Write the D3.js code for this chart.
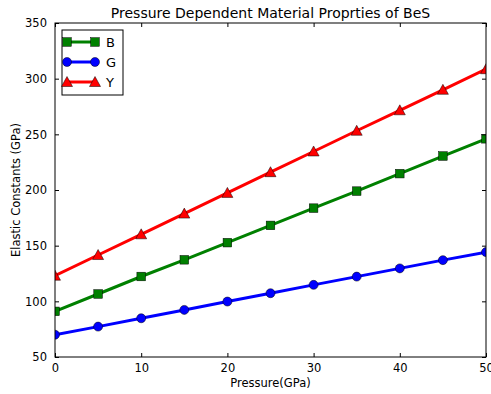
<!DOCTYPE html>
<html>
<head>
<meta charset="utf-8">
<script src="https://cdn.jsdelivr.net/npm/d3@7"></script>
<style>
  body { margin: 0; background: #fff; }
  svg text { font-family: "DejaVu Sans", sans-serif; fill: #000; }
</style>
</head>
<body>
<svg id="chart" width="491" height="394"></svg>
<script>
// data
let pressure = [0, 5, 10, 15, 20, 25, 30, 35, 40, 45, 50];
let bulkB  = [91, 106.6, 122.3, 137.3, 152.7, 168.2, 183.7, 199, 214.7, 230.5, 246];
let shearG = [70, 77.3, 84.8, 92.3, 99.8, 107.3, 114.8, 122.2, 129.6, 137, 144.2];
let youngY = [123, 141.6, 160.2, 178.8, 197.4, 216, 234.6, 253.2, 271.6, 290, 308.5];
let xTicks = [0, 10, 20, 30, 40, 50];
let yTicks = [50, 100, 150, 200, 250, 300, 350];

let series = [
    {name: "B", values: bulkB,  color: "#008000", marker: "square"},
    {name: "G", values: shearG, color: "#0000ff", marker: "circle"},
    {name: "Y", values: youngY, color: "#ff0000", marker: "triangle"}
];

var svg = d3.select("#chart");
var pLeft = 55, pRight = 486, pTop = 23, pBottom = 357;

var x = d3.scaleLinear().domain([0, 50]).range([pLeft, pRight]);
var y = d3.scaleLinear().domain([50, 350]).range([pBottom, pTop]);

// markers are cut at the axes like in the original
svg.append("clipPath").attr("id", "clip")
    .append("rect").attr("x", pLeft).attr("y", pTop)
    .attr("width", pRight - pLeft).attr("height", pBottom - pTop);

function drawMarker(g, type, color, cx, cy) {
    if (type === "square") {
        g.append("rect").attr("x", cx - 4.3).attr("y", cy - 4.3)
            .attr("width", 8.6).attr("height", 8.6);
    } else if (type === "circle") {
        g.append("circle").attr("cx", cx).attr("cy", cy).attr("r", 4.5);
    } else {
        g.append("path").attr("d", "M" + cx + "," + (cy - 5.5) + "L" + (cx + 5.5) + "," + (cy + 4.5) + "L" + (cx - 5.5) + "," + (cy + 4.5) + "Z");
    }
    g.selectAll("*").attr("fill", color).attr("stroke", "#000").attr("stroke-width", 0.5);
}

var line = d3.line()
    .x(function(d, i) { return x(pressure[i]); })
    .y(function(d) { return y(d); });

var dataG = svg.append("g").attr("clip-path", "url(#clip)");
series.forEach(function(s) {
    dataG.append("path")
        .attr("d", line(s.values))
        .attr("fill", "none")
        .attr("stroke", s.color)
        .attr("stroke-width", 3);
    s.values.forEach(function(v, i) {
        drawMarker(dataG.append("g"), s.marker, s.color, x(pressure[i]), y(v));
    });
});

// frame
svg.append("rect").attr("x", pLeft).attr("y", pTop)
    .attr("width", pRight - pLeft).attr("height", pBottom - pTop)
    .attr("fill", "none").attr("stroke", "#000").attr("stroke-width", 1);

// axes with inward ticks on all sides
var xAxis = d3.axisBottom(x).tickValues(xTicks).tickSize(-4).tickPadding(7).tickFormat(d3.format("d"));
var yAxis = d3.axisLeft(y).tickValues(yTicks).tickSize(-4).tickPadding(8).tickFormat(d3.format("d"));

var gx = svg.append("g").attr("transform", "translate(0," + pBottom + ")").call(xAxis);
var gy = svg.append("g").attr("transform", "translate(" + pLeft + ",0)").call(yAxis);
var gxTop = svg.append("g").attr("transform", "translate(0," + pTop + ")")
    .call(d3.axisTop(x).tickValues(xTicks).tickSize(-4).tickFormat(""));
var gyRight = svg.append("g").attr("transform", "translate(" + pRight + ",0)")
    .call(d3.axisRight(y).tickValues(yTicks).tickSize(-4).tickFormat(""));

[gx, gy, gxTop, gyRight].forEach(function(g) {
    g.select(".domain").remove();
    g.selectAll(".tick line").attr("stroke", "#000");
    g.selectAll("text").attr("font-size", 11.5).attr("font-family", "DejaVu Sans, sans-serif").attr("fill", "#000");
});

// title and labels
svg.append("text").attr("x", (pLeft + pRight) / 2).attr("y", 18)
    .attr("text-anchor", "middle").attr("font-size", 14)
    .text("Pressure Dependent Material Proprties of BeS");
svg.append("text").attr("x", (pLeft + pRight) / 2).attr("y", 387)
    .attr("text-anchor", "middle").attr("font-size", 11.5)
    .text("Pressure(GPa)");
svg.append("text").attr("transform", "translate(20," + ((pTop + pBottom) / 2) + ") rotate(-90)")
    .attr("text-anchor", "middle").attr("font-size", 11.5)
    .text("Elastic Constants (GPa)");

// legend
var legend = svg.append("g");
legend.append("rect").attr("x", 62).attr("y", 30).attr("width", 61).attr("height", 65)
    .attr("fill", "#fff").attr("stroke", "#000").attr("stroke-width", 1);
series.forEach(function(s, i) {
    var ly = 42 + i * 20;
    legend.append("line").attr("x1", 67).attr("x2", 95).attr("y1", ly).attr("y2", ly)
        .attr("stroke", s.color).attr("stroke-width", 3);
    drawMarker(legend.append("g"), s.marker, s.color, 67, ly);
    drawMarker(legend.append("g"), s.marker, s.color, 95, ly);
    legend.append("text").attr("x", 106).attr("y", ly + 5).attr("font-size", 13).text(s.name);
});
</script>
</body>
</html>
